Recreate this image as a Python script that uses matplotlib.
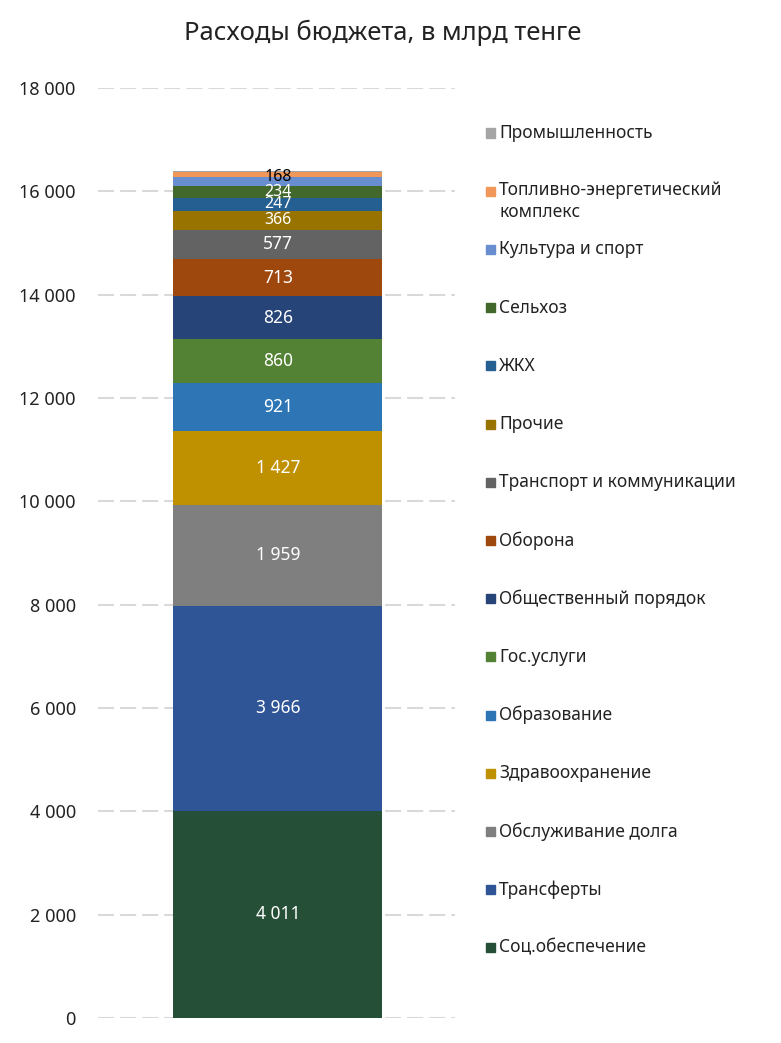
import matplotlib.pyplot as plt
from matplotlib.patches import Rectangle

plt.rcParams['font.family'] = ['Noto Sans', 'DejaVu Sans']

# bottom to top of the stack
categories = [
    "Соц.обеспечение", "Трансферты", "Обслуживание долга", "Здравоохранение",
    "Образование", "Гос.услуги", "Общественный порядок", "Оборона",
    "Транспорт и коммуникации", "Прочие", "ЖКХ", "Сельхоз",
    "Культура и спорт", "Топливно-энергетический\nкомплекс", "Промышленность",
]
values = [4011, 3966, 1959, 1427, 921, 860, 826, 713, 577, 366, 247, 234, 168, 100, 10]
labels = ["4 011", "3 966", "1 959", "1 427", "921", "860", "826", "713",
          "577", "366", "247", "234", "168", "", ""]
colors = ["#264F37", "#2F5597", "#7F7F7F", "#BF9000", "#2E75B6", "#548235",
          "#264478", "#9E480E", "#636363", "#997300", "#255E91", "#43682B",
          "#698ED0", "#F1975A", "#A5A5A5"]
label_colors = ["white"] * 12 + ["black", "black", "black"]

yticks = [0, 2000, 4000, 6000, 8000, 10000, 12000, 14000, 16000, 18000]
ytick_labels = ["0", "2 000", "4 000", "6 000", "8 000", "10 000", "12 000",
                "14 000", "16 000", "18 000"]

W, H = 781, 1043
fig = plt.figure(figsize=(W / 100, H / 100), dpi=100)
ax = fig.add_axes([98 / W, 1 - 1018 / H, 357 / W, (1018 - 88) / H])

bottom = 0
for v, c, lab, lc in zip(values, colors, labels, label_colors):
    ax.bar(0, v, bottom=bottom, width=0.82, color=c, zorder=3)
    if lab:
        y = bottom + v / 2
        if lab == "168":
            y += 80
        fs = 12.5 if v > 500 else 11.5
        ax.text(0, y, lab, ha="center", va="center", color=lc, fontsize=fs,
                zorder=4)
    bottom += v

ax.set_xlim(-0.705, 0.695)
ax.set_ylim(0, 18000)
ax.set_yticks(yticks)
ax.set_yticklabels(ytick_labels, fontsize=13, color="#222222")
ax.set_xticks([])
ax.tick_params(axis="y", length=0, pad=16)
ax.grid(axis="y", color="#D9D9D9", linestyle=(0, (7.7, 2.9)), linewidth=1.5, zorder=0)
for s in ax.spines.values():
    s.set_visible(False)

fig.text(0.5 - 0.01, 1 - 33 / H, "Расходы бюджета, в млрд тенге", ha="center",
         va="center", fontsize=18.5, color="#222222")

# legend, top to bottom
for i, (cat, c) in enumerate(zip(categories[::-1], colors[::-1])):
    ypx = 133 + 58.2 * i
    fig.patches.append(Rectangle((486 / W, 1 - (ypx + 4.5) / H), 9 / W, 9 / H,
                                 transform=fig.transFigure, color=c))
    if "\n" in cat:
        fig.text(499 / W, 1 - (ypx - 10) / H, cat, ha="left", va="top",
                 fontsize=12.5, color="#222222", linespacing=1.25)
    else:
        fig.text(499 / W, 1 - ypx / H, cat, ha="left", va="center",
                 fontsize=12.5, color="#222222")

fig.savefig("out.png", dpi=100)
